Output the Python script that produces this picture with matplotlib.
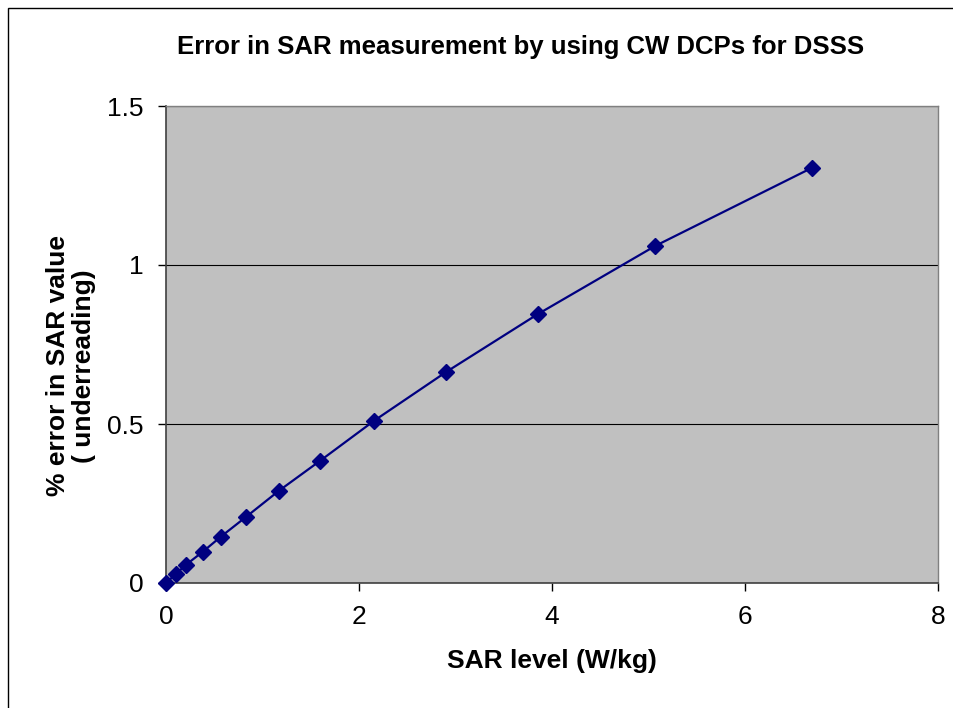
import matplotlib
matplotlib.use("Agg")
import matplotlib.pyplot as plt
from matplotlib.patches import Rectangle

sar_level = [0.0, 0.10, 0.21, 0.38, 0.57, 0.83, 1.17, 1.60, 2.16, 2.90, 3.85, 5.07, 6.69]
error_pct = [0.0, 0.028, 0.058, 0.098, 0.146, 0.208, 0.290, 0.385, 0.511, 0.663, 0.845, 1.060, 1.305]
x_ticks = [0, 2, 4, 6, 8]
y_ticks = [0, 0.5, 1, 1.5]
y_tick_labels = ["0", "0.5", "1", "1.5"]

plt.rcParams['font.family'] = ['Liberation Sans', 'DejaVu Sans']

W, H = 954, 708
fig = plt.figure(figsize=(W/100, H/100), dpi=100)
fig.patch.set_facecolor('white')
# outer chart border
fig.patches.append(Rectangle((8/W, -0.01), 1.0, 1 - 8/H + 0.01, transform=fig.transFigure,
                             fill=False, edgecolor='black', linewidth=1.0))

ax = fig.add_axes([166/W, 1 - 583/H, (938-166)/W, (583-106)/H])
ax.set_facecolor('#c0c0c0')
ax.plot(sar_level, error_pct, color='#000080', linewidth=1.6, marker='D', markersize=8.5,
        markerfacecolor='#000080', markeredgecolor='#000080', clip_on=False, zorder=3)
ax.set_xlim(0, 8)
ax.set_ylim(0, 1.5)
ax.set_xticks(x_ticks)
ax.set_yticks(y_ticks)
ax.set_yticklabels(y_tick_labels)
ax.yaxis.grid(True, color='black', linewidth=0.8)
ax.set_axisbelow(True)
for s in ['top', 'right']:
    ax.spines[s].set_color('#808080')
    ax.spines[s].set_linewidth(1.0)
for s in ['left', 'bottom']:
    ax.spines[s].set_color('#404040')
    ax.spines[s].set_linewidth(1.2)
ax.tick_params(axis='both', direction='out', length=6, width=1, colors='black', labelsize=19, pad=10)
ax.set_xlabel('SAR level (W/kg)', fontsize=19, fontweight='bold', labelpad=14)

fig.text(71/W, 1 - 366/H, '% error in SAR value\n( underreading)', fontsize=19, fontweight='bold',
         rotation=90, ha='center', va='center', multialignment='center', linespacing=1.1)
fig.text(521/W, 1 - 47/H, 'Error in SAR measurement by using CW DCPs for DSSS', fontsize=18.5,
         fontweight='bold', ha='center', va='center')

fig.savefig('out.png', dpi=100)
